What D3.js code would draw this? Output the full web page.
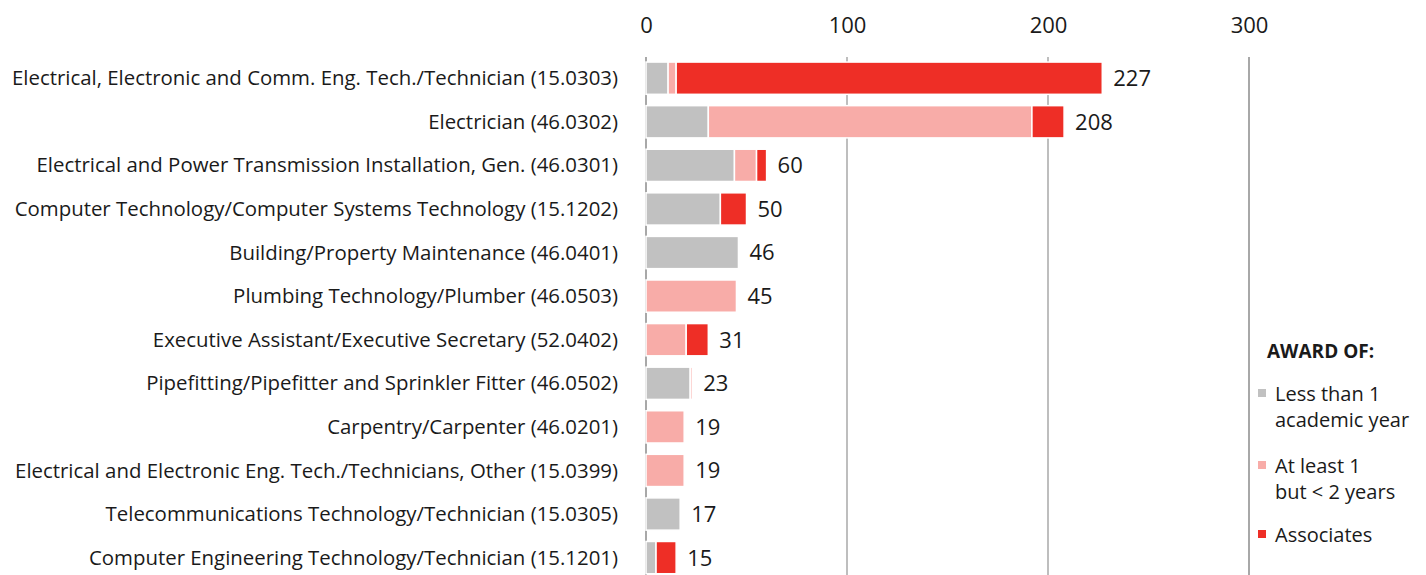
<!DOCTYPE html>
<html>
<head>
<meta charset="utf-8">
<script src="https://cdn.jsdelivr.net/npm/d3@7/dist/d3.min.js"></script>
<style>
  html, body { margin: 0; padding: 0; background: #fff; }
  svg { display: block; }
  text { font-family: "Open Sans", sans-serif; fill: #1a1a1a; }
</style>
</head>
<body>
<svg id="chart" width="1426" height="575"></svg>
<script>
// Programs and award counts by award level
const categories = [
  "Electrical, Electronic and Comm. Eng. Tech./Technician (15.0303)",
  "Electrician (46.0302)",
  "Electrical and Power Transmission Installation, Gen. (46.0301)",
  "Computer Technology/Computer Systems Technology (15.1202)",
  "Building/Property Maintenance (46.0401)",
  "Plumbing Technology/Plumber (46.0503)",
  "Executive Assistant/Executive Secretary (52.0402)",
  "Pipefitting/Pipefitter and Sprinkler Fitter (46.0502)",
  "Carpentry/Carpenter (46.0201)",
  "Electrical and Electronic Eng. Tech./Technicians, Other (15.0399)",
  "Telecommunications Technology/Technician (15.0305)",
  "Computer Engineering Technology/Technician (15.1201)"
];
const lessThan1Year = [11, 31, 44, 37, 46, 0, 0, 22, 0, 0, 17, 5];
const oneToTwoYears = [4, 161, 11, 0, 0, 45, 20, 1, 19, 19, 0, 0];
const associates    = [212, 16, 5, 13, 0, 0, 11, 0, 0, 0, 0, 10];
const totals        = [227, 208, 60, 50, 46, 45, 31, 23, 19, 19, 17, 15];

const seriesKeys   = ["less", "mid", "assoc"];
const seriesLabels = [["Less than 1", "academic year"], ["At least 1", "but < 2 years"], ["Associates"]];
const seriesColors = ["#c1c1c1", "#f8aca8", "#ee2e26"];
const xTicks = [0, 100, 200, 300];

const rows = categories.map((c, i) => ({
  category: c, less: lessThan1Year[i], mid: oneToTwoYears[i], assoc: associates[i], total: totals[i]
}));

const svg = d3.select("#chart");
const W = 1426, H = 575;

const x = d3.scaleLinear().domain([0, 300]).range([646, 1249]);
const y = d3.scaleBand().domain(categories).range([56.4, 579.4]).paddingInner(0.26).paddingOuter(0.13);
const color = d3.scaleOrdinal().domain(seriesKeys).range(seriesColors);

// vertical gridlines
svg.append("g").selectAll("line").data(xTicks).join("line")
  .attr("x1", d => x(d)).attr("x2", d => x(d))
  .attr("y1", 57).attr("y2", H)
  .attr("stroke", "#a8a8a8").attr("stroke-width", d => (d === 0 || d === 300) ? 2 : 1.5);

// top axis labels
const axis = d3.axisTop(x).tickValues(xTicks).tickSize(0).tickPadding(0);
const gAxis = svg.append("g").attr("transform", "translate(0,33)").call(axis);
gAxis.select(".domain").remove();
gAxis.selectAll("text").style("font-family", "'Open Sans', sans-serif")
  .style("font-size", "22px").attr("fill", "#1a1a1a");

// stacked bars
const stacked = d3.stack().keys(seriesKeys)(rows);
svg.append("g").selectAll("g").data(stacked).join("g")
  .attr("fill", d => color(d.key))
  .selectAll("rect").data(d => d.filter(s => s[1] > s[0])).join("rect")
  .attr("x", d => x(d[0]))
  .attr("y", d => y(d.data.category))
  .attr("width", d => x(d[1]) - x(d[0]))
  .attr("height", y.bandwidth())
  .attr("stroke", "#fff").attr("stroke-width", 1.5);

// category labels
svg.append("g").selectAll("text").data(rows).join("text")
  .attr("x", 618)
  .attr("y", d => y(d.category) + y.bandwidth() / 2)
  .attr("dy", "0.35em")
  .attr("text-anchor", "end")
  .style("font-size", "20.4px")
  .text(d => d.category);

// total labels
svg.append("g").selectAll("text").data(rows).join("text")
  .attr("x", d => x(d.total) + 11)
  .attr("y", d => y(d.category) + y.bandwidth() / 2)
  .attr("dy", "0.36em")
  .style("font-size", "22px")
  .text(d => d.total);

// legend
const lg = svg.append("g");
lg.append("text").attr("x", 1267).attr("y", 358)
  .style("font-size", "19px").style("font-weight", "bold").text("AWARD OF:");
const itemTops = [394, 466, 535];
seriesKeys.forEach((k, i) => {
  lg.append("rect").attr("x", 1258).attr("y", itemTops[i] - 5).attr("width", 8).attr("height", 8)
    .attr("fill", color(k));
  seriesLabels[i].forEach((t, j) => {
    lg.append("text").attr("x", 1275).attr("y", itemTops[i] + j * 26).attr("dy", "0.35em")
      .style("font-size", "20px").text(t);
  });
});
</script>
</body>
</html>
